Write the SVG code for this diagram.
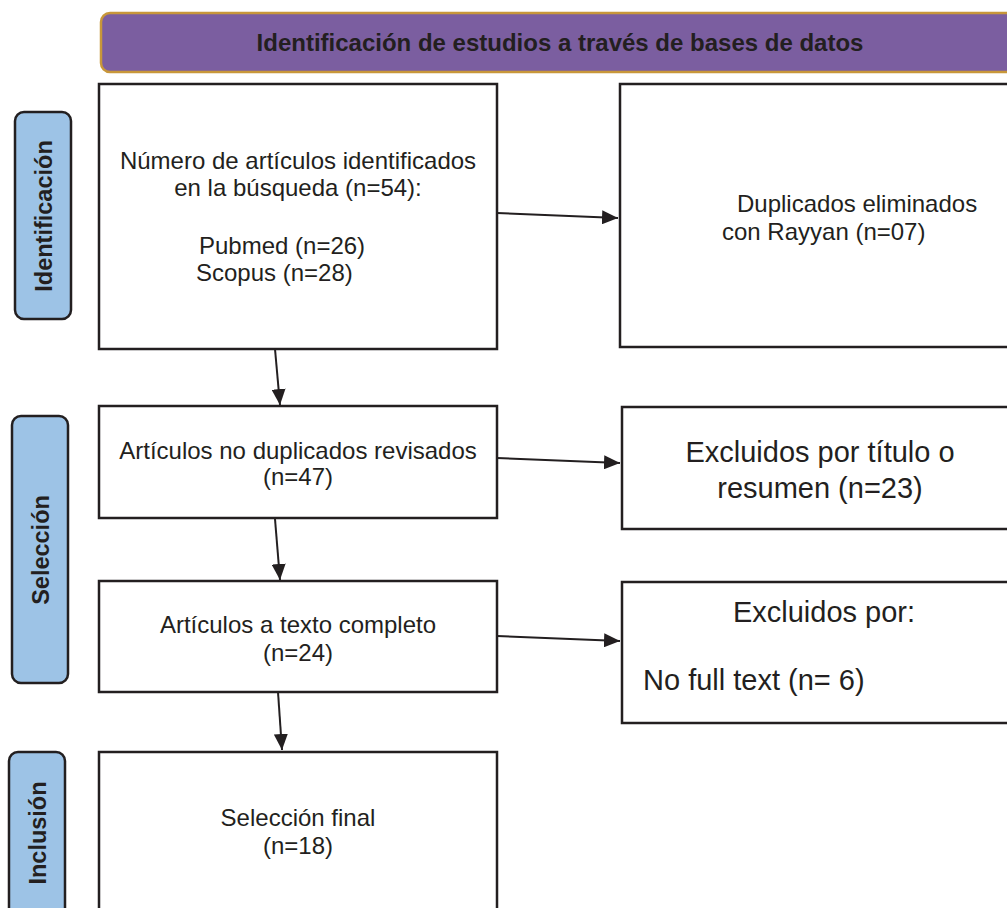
<svg xmlns="http://www.w3.org/2000/svg" width="1007" height="908" viewBox="0 0 1007 908">
<style>
.box{fill:#fff;stroke:#231f20;stroke-width:2.5}
.side{fill:#9dc3e6;stroke:#231f20;stroke-width:2.5}
.t{font-family:"Liberation Sans",Arial,sans-serif;font-size:24px;fill:#231f20}
.tl{font-family:"Liberation Sans",Arial,sans-serif;font-size:29px;fill:#231f20}
.st{font-family:"Liberation Sans",Arial,sans-serif;font-size:23.5px;font-weight:bold;fill:#231f20}
.ht{font-family:"Liberation Sans",Arial,sans-serif;font-size:24px;font-weight:bold;fill:#231f20}
.c{stroke:#231f20;stroke-width:2;fill:none;marker-end:url(#ah)}
</style>
<defs>
<marker id="ah" viewBox="0 0 16 14" refX="16" refY="7" markerWidth="16" markerHeight="14" markerUnits="userSpaceOnUse" orient="auto">
<path d="M0,0 L16,7 L0,14 z" fill="#231f20"/>
</marker>
</defs>
<rect width="1007" height="908" fill="#fff"/>
<g id="header">
<rect x="101" y="13" width="930" height="59" rx="9" fill="#7b5ea0" stroke="#c8973a" stroke-width="2.5"/>
<text class="ht" x="560" y="51" text-anchor="middle">Identificación de estudios a través de bases de datos</text>
</g>
<g id="side-identificacion">
<rect class="side" x="15" y="112" width="56" height="207" rx="9"/>
<text class="st" transform="translate(52,216) rotate(-90)" text-anchor="middle">Identificación</text>
</g>
<g id="side-seleccion">
<rect class="side" x="12" y="416" width="56" height="267" rx="9"/>
<text class="st" transform="translate(49,550) rotate(-90)" text-anchor="middle">Selección</text>
</g>
<g id="side-inclusion">
<rect class="side" x="9" y="752" width="56" height="180" rx="9"/>
<text class="st" transform="translate(46,833) rotate(-90)" text-anchor="middle">Inclusión</text>
</g>
<g id="n1">
<rect class="box" x="99" y="84" width="398" height="265"/>
<text class="t" x="298" y="169" text-anchor="middle">Número de artículos identificados</text>
<text class="t" x="298" y="196" text-anchor="middle">en la búsqueda (n=54):</text>
<text class="t" x="199" y="254">Pubmed (n=26)</text>
<text class="t" x="196" y="281">Scopus (n=28)</text>
</g>
<g id="n2">
<rect class="box" x="620" y="84" width="400" height="263"/>
<text class="t" x="737" y="212">Duplicados eliminados</text>
<text class="t" x="722" y="240">con Rayyan  (n=07)</text>
</g>
<g id="n3">
<rect class="box" x="99" y="406" width="398" height="112"/>
<text class="t" x="298" y="459" text-anchor="middle">Artículos no duplicados revisados</text>
<text class="t" x="298" y="485" text-anchor="middle">(n=47)</text>
</g>
<g id="n4">
<rect class="box" x="622" y="407" width="400" height="122"/>
<text class="tl" x="820" y="462" text-anchor="middle">Excluidos por título o</text>
<text class="tl" x="820" y="498" text-anchor="middle">resumen (n=23)</text>
</g>
<g id="n5">
<rect class="box" x="99" y="581" width="398" height="111"/>
<text class="t" x="298" y="633" text-anchor="middle">Artículos a texto completo</text>
<text class="t" x="298" y="661" text-anchor="middle">(n=24)</text>
</g>
<g id="n6">
<rect class="box" x="622" y="582" width="400" height="141"/>
<text class="tl" x="824" y="622" text-anchor="middle">Excluidos por:</text>
<text class="tl" x="643" y="690">No full text (n= 6)</text>
</g>
<g id="n7">
<rect class="box" x="99" y="752" width="398" height="170"/>
<text class="t" x="298" y="826" text-anchor="middle">Selección final</text>
<text class="t" x="298" y="854" text-anchor="middle">(n=18)</text>
</g>
<g id="connectors">
<line class="c" x1="497" y1="213" x2="618" y2="218"/>
<line class="c" x1="497" y1="458" x2="620" y2="463"/>
<line class="c" x1="497" y1="636" x2="620" y2="641"/>
<line class="c" x1="275" y1="349" x2="280" y2="405"/>
<line class="c" x1="275" y1="519" x2="280" y2="580"/>
<line class="c" x1="278" y1="692" x2="282" y2="750"/>
</g>
</svg>
